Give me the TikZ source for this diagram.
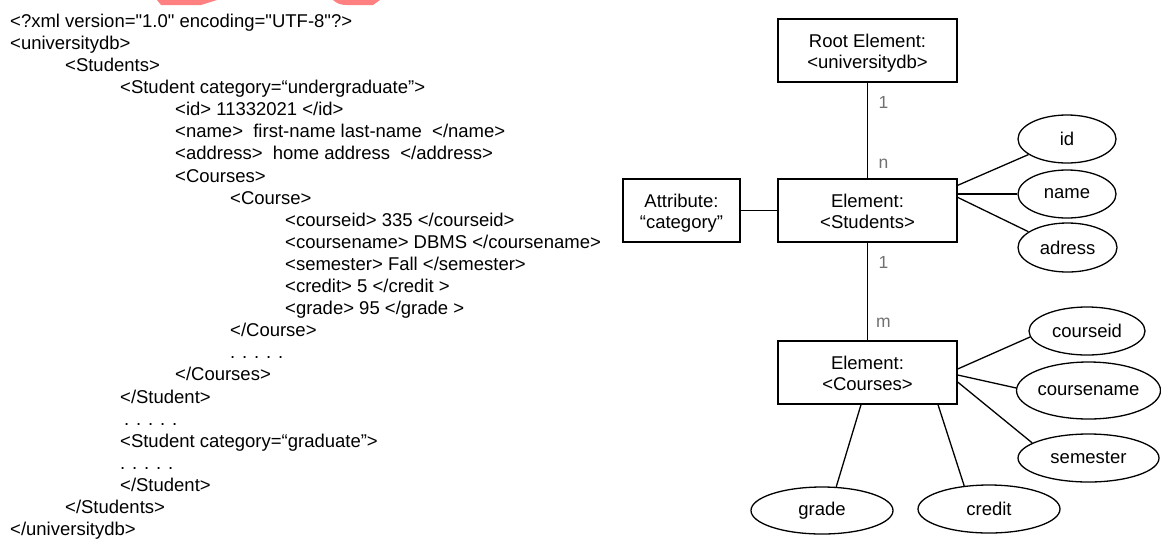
\documentclass[tikz,border=0pt]{standalone}
\usepackage{fontspec}
\newfontfamily\xsans{Liberation Sans}
\usetikzlibrary{shapes.geometric}
\definecolor{wmred}{RGB}{255,128,128}
\definecolor{cardgray}{RGB}{112,112,112}
% two-line box label with fixed line heights
\newcommand{\twoline}[2]{\rule{0pt}{20.5pt}#1\\#2\rule[-5pt]{0pt}{5pt}}
\begin{document}
\begin{tikzpicture}[x=1pt,y=-1pt,
  every node/.style={font=\xsans\fontsize{18.5}{21}\selectfont},
  code/.style={anchor=base west, inner sep=0pt},
  box/.style={draw, line width=1.3pt, inner sep=0pt, align=center,
    minimum width=179pt, minimum height=63pt},
  prop/.style={draw, ellipse, line width=1.3pt, inner sep=0pt},
  link/.style={line width=1.3pt},
  card/.style={text=cardgray, font=\xsans\fontsize{17.5}{17.5}\selectfont,
    inner sep=0pt, xshift=16pt}]
\useasboundingbox (0,0) rectangle (1161,539);

% fragments of a red mark along the top edge
\fill[wmred] (157,0) -- (217,0) -- (201,5) -- (161,5) -- cycle;
\fill[wmred] (333,0) -- (380,0) -- (373,5) -- (346,5) to[bend left=20] (333,0) -- cycle;

% XML listing
\node[code] (l0)  at (10, 27.3)  {<?xml version="1.0" encoding="UTF-8"?>};
\node[code] (l1)  at (10, 49.4)  {<universitydb>};
\node[code] (l2)  at (65, 71.5)  {<Students>};
\node[code] (l3)  at (120, 93.6) {<Student category=“undergraduate”>};
\node[code] (l4)  at (175, 115.7) {<id> 11332021 </id>};
\node[code] (l5)  at (175, 137.8) {<name>~ first-name last-name~ </name>};
\node[code] (l6)  at (175, 159.9) {<address>~ home address~ </address>};
\node[code] (l7)  at (175, 182.0) {<Courses>};
\node[code] (l8)  at (230, 204.1) {<Course>};
\node[code] (l9)  at (285, 226.2) {<courseid> 335 </courseid>};
\node[code] (l10) at (285, 248.3) {<coursename> DBMS </coursename>};
\node[code] (l11) at (285, 270.4) {<semester> Fall </semester>};
\node[code] (l12) at (285, 292.5) {<credit> 5 </credit >};
\node[code] (l13) at (285, 314.6) {<grade> 95 </grade >};
\node[code] (l14) at (230, 336.7) {</Course>};
\node[code] (l15) at (230, 358.8) {. . . . .};
\node[code] (l16) at (175, 380.9) {</Courses>};
\node[code] (l17) at (120, 403.0) {</Student>};
\node[code] (l18) at (124, 425.1) {. . . . .};
\node[code] (l19) at (120, 447.2) {<Student category=“graduate”>};
\node[code] (l20) at (120, 469.3) {. . . . .};
\node[code] (l21) at (120, 491.4) {</Student>};
\node[code] (l22) at (65, 513.5)  {</Students>};
\node[code] (l23) at (10, 535.6)  {</universitydb>};

% element boxes
\node[box] (root) at (867.5,50.5) {\twoline{Root Element:}{<universitydb>}};
\node[box] (stu) at (867.5,210.5) {\twoline{Element:}{<Students>}};
\node[box, minimum width=117pt] (cat) at (681.5,210.5) {\twoline{Attribute:}{“category”}};
\node[box] (cou) at (867.5,372.5) {\twoline{Element:}{<Courses>}};

% child value ellipses
\node[prop, minimum width=98pt, minimum height=48pt] (id) at (1067,139) {id};
\node[prop, minimum width=98pt, minimum height=48pt] (name) at (1067,194) {name};
\node[prop, minimum width=99pt, minimum height=49pt] (adr) at (1067.5,247.5) {adress};
\node[prop, minimum width=116pt, minimum height=48pt] (cid) at (1087,331) {courseid};
\node[prop, minimum width=141pt, minimum height=57pt] (cname) at (1088.5,390.5) {coursename};
\node[prop, minimum width=141pt, minimum height=48pt] (sem) at (1088.5,458) {semester};
\node[prop, minimum width=142pt, minimum height=47pt] (grade) at (822,510.5) {grade};
\node[prop, minimum width=142pt, minimum height=48pt] (credit) at (989,509) {credit};

% connectors
\draw[link] (root) -- node[card, pos=0.21] {1} node[card, pos=0.845] {n} (stu);
\draw[link] (stu) -- node[card, pos=0.20] {1} node[card, pos=0.82] {m} (cou);
\draw[link] (cat) -- (stu);
\draw[link] ([yshift=-7pt]stu.north east) -- (id.202);
\draw[link] (name.west -| stu.east) -- (name.west);
\draw[link] ([yshift=-19pt]stu.north east) -- (adr.158);
\draw[link] ([yshift=3.5pt]cou.east) -- (cid.186);
\draw[link] ([yshift=-2.5pt]cou.east) -- (cname.178);
\draw[link] ([yshift=-9.5pt]cou.east) -- (sem.165);
\draw[link] ([xshift=-6.5pt]cou.south) -- (grade.59);
\draw[link] ([xshift=70.5pt]cou.south) -- (credit.137);
\end{tikzpicture}
\end{document}
